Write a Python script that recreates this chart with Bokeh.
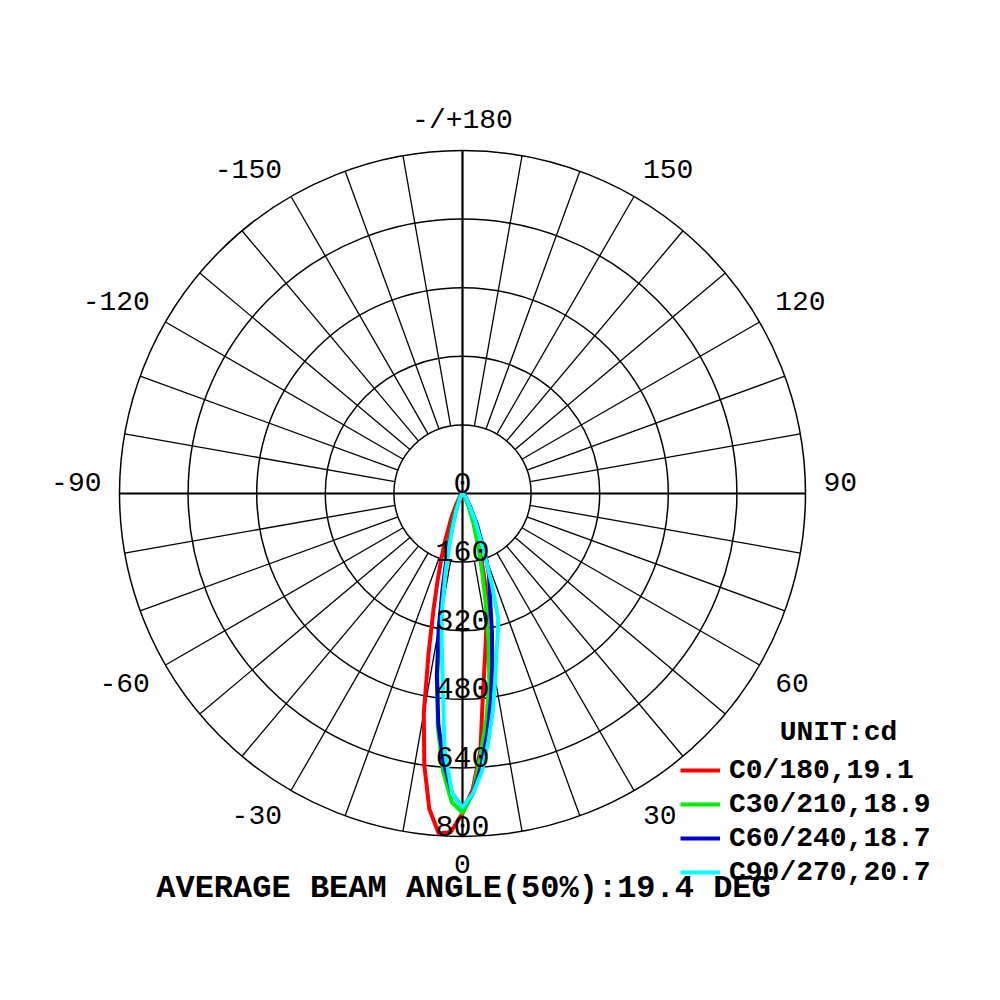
import numpy as np
from bokeh.plotting import figure
from bokeh.models import Range1d
from bokeh.core.properties import value
from bokeh.embed import file_html
from bokeh.resources import INLINE

# ---------------- data ----------------
gamma = [0, 2, 4, 6, 8, 10, 12, 14, 16, 18, 20, 25, 30, 40, 60, 90]

c0 = [746, 690, 600, 460, 380, 320, 280, 220, 160, 120, 90, 45, 20, 8, 2, 0]
c180 = [746, 790, 795, 740, 640, 520, 380, 280, 210, 160, 120, 60, 30, 10, 3, 0]
c30 = [745, 700, 610, 530, 450, 350, 260, 190, 140, 100, 75, 35, 15, 5, 1, 0]
c210 = [745, 720, 650, 550, 420, 290, 200, 150, 110, 80, 60, 30, 15, 5, 1, 0]
c60 = [732, 700, 635, 560, 480, 400, 330, 270, 230, 200, 160, 80, 35, 10, 2, 0]
c240 = [732, 700, 630, 540, 430, 320, 220, 150, 100, 70, 50, 25, 12, 4, 1, 0]
c90 = [732, 700, 650, 580, 510, 440, 380, 340, 300, 220, 150, 70, 30, 10, 2, 0]
c270 = [732, 700, 600, 440, 350, 275, 190, 130, 90, 60, 45, 20, 10, 3, 1, 0]

series_names = ["C0/180,19.1", "C30/210,18.9", "C60/240,18.7", "C90/270,20.7"]
series_right = [c0, c30, c60, c90]
series_left = [c180, c210, c240, c270]
series_colors = ["#ff0000", "#00ee00", "#0000cc", "#00ffff"]

ring_values = [160, 320, 480, 640, 800]
ring_labels = ["0", "160", "320", "480", "640", "800"]
ring_label_values = [0, 160, 320, 480, 640, 800]
angle_ticks = [0, 30, 60, 90, 120, 150, 180, -150, -120, -90, -60, -30]
angle_labels = ["0", "30", "60", "90", "120", "150", "-/+180",
                "-150", "-120", "-90", "-60", "-30"]
unit_text = "UNIT:cd"
footer_text = "AVERAGE BEAM ANGLE(50%):19.4 DEG"

# ---------------- geometry ----------------
W = H = 984
CX, CY = 462, 493            # centre of the polar plot, px in frame
SCALE = 343.0 / 800.0        # px per cd
x_range = Range1d(-CX / SCALE, (W - CX) / SCALE)
y_range = Range1d(-(H - CY) / SCALE, CY / SCALE)


def px_to_data(px, py):
    return (px - CX) / SCALE, (CY - py) / SCALE


p = figure(width=W, height=H, x_range=x_range, y_range=y_range,
           output_backend="svg", toolbar_location=None, min_border=0)
p.axis.visible = False
p.xgrid.visible = False
p.ygrid.visible = False
p.outline_line_color = None
p.background_fill_color = "white"

# rings
p.circle(x=[0] * len(ring_values), y=[0] * len(ring_values), radius=ring_values,
         fill_color=None, line_color="black", line_width=1.5)

# radial spokes every 10 deg
sp = [a for a in range(0, 360, 10) if a % 90 != 0]
sa = np.radians(sp)
rmin, rmax = ring_values[0], ring_values[-1]
p.segment(x0=rmin * np.sin(sa), y0=-rmin * np.cos(sa),
          x1=rmax * np.sin(sa), y1=-rmax * np.cos(sa),
          line_color="black", line_width=1.3)
# main axes
p.segment(x0=[-rmax, 0], y0=[0, -rmax], x1=[rmax, 0], y1=[0, rmax],
          line_color="black", line_width=2.2)

# curves
g = np.array(gamma, dtype=float)
for name, right, left, col in zip(series_names, series_right, series_left, series_colors):
    ang = np.concatenate([-g[::-1], g[1:]])
    inten = np.concatenate([np.array(left, float)[::-1], np.array(right, float)[1:]])
    rad = np.radians(ang)
    p.line(inten * np.sin(rad), -inten * np.cos(rad), line_color=col,
           line_width=4, line_join="round", legend_label=name)

# angle labels: the corner nearest the outer circle is anchored on a circle
R_ANCHOR = 361 / SCALE
LOW_SHIFT = 9 / SCALE
UP_SHIFT = 12 / SCALE
ta = np.radians(angle_ticks)
aligns = ["center" if a in (0, 180) else ("left" if a > 0 else "right") for a in angle_ticks]
lab_x = R_ANCHOR * np.sin(ta)
lab_y = [-R_ANCHOR * np.cos(t) + (-LOW_SHIFT if abs(a) < 90 else UP_SHIFT)
         for t, a in zip(ta, angle_ticks)]
p.text(x=lab_x, y=lab_y, text=angle_labels,
       text_align=aligns, text_baseline="middle",
       text_font=value("Liberation Mono"), text_font_size="28px", text_color="black")

# ring value labels along the 0 axis
p.text(x=[0] * len(ring_label_values),
       y=[-v + 11 / SCALE for v in ring_label_values], text=ring_labels,
       text_align="center", text_baseline="middle",
       text_font=value("Liberation Mono"), text_font_size="30px", text_color="black")

# unit text
ux, uy = px_to_data(838, 732)
p.text(x=[ux], y=[uy], text=[unit_text], text_align="center", text_baseline="middle",
       text_font=value("Liberation Mono"), text_font_style="bold",
       text_font_size="28px", text_color="black")

# footer
fx, fy = px_to_data(463, 888)
p.text(x=[fx], y=[fy], text=[footer_text], text_align="center", text_baseline="middle",
       text_font=value("Liberation Mono"), text_font_style="bold",
       text_font_size="32px", text_color="black")

lg = p.legend[0]
lg.location = (680, 95)
lg.padding = 0
lg.margin = 0
lg.spacing = 0
lg.glyph_width = 40
lg.glyph_height = 34
lg.label_standoff = 9
lg.label_height = 34
lg.label_text_font = "Liberation Mono"
lg.label_text_font_style = "bold"
lg.label_text_font_size = "28px"
lg.label_text_color = "black"
lg.border_line_color = None
lg.background_fill_alpha = 0

open("out.html", "w").write(file_html(p, INLINE))
